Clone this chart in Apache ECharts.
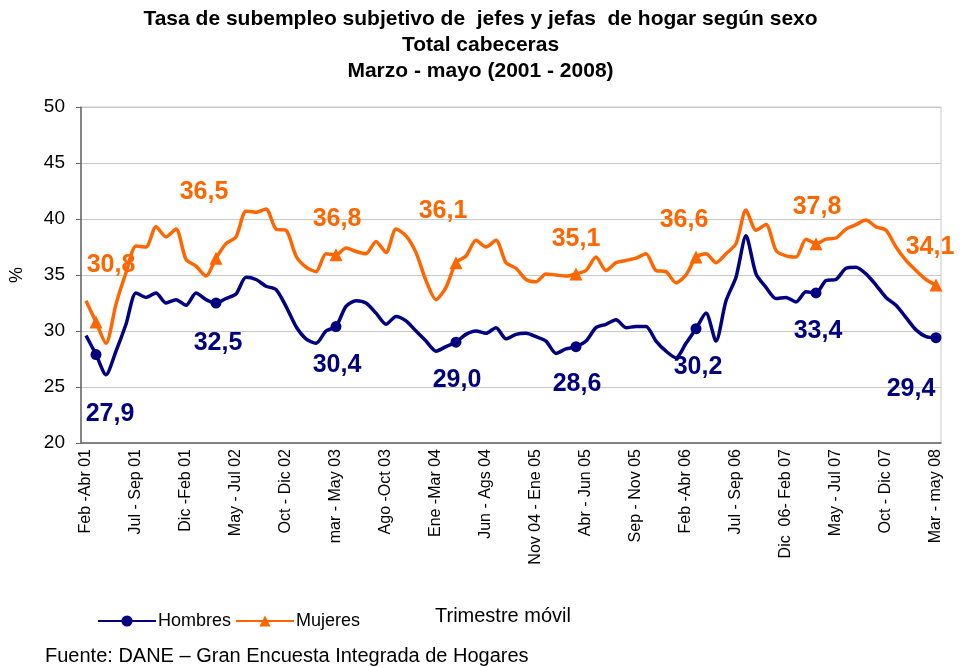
<!DOCTYPE html>
<html>
<head>
<meta charset="utf-8">
<script src="https://cdn.jsdelivr.net/npm/echarts@6/dist/echarts.min.js"></script>
<style>
  html, body { margin: 0; padding: 0; background: #fff; }
  #main { width: 961px; height: 667px; }
</style>
</head>
<body>
<div id="main"></div>
<script>
// etiquetas visibles del eje x (cada 5 trimestres moviles)
var tickLabels = ['Feb -Abr 01', 'Jul - Sep 01', 'Dic -Feb 01', 'May - Jul 02', 'Oct - Dic 02',
  'mar - May 03', 'Ago -Oct 03', 'Ene -Mar 04', 'Jun - Ags 04', 'Nov 04 - Ene 05',
  'Abr - Jun 05', 'Sep - Nov 05', 'Feb -Abr 06', 'Jul - Sep 06', 'Dic  06- Feb 07',
  'May - Jul 07', 'Oct - Dic 07', 'Mar - may 08'];
var months = ['Ene', 'Feb', 'Mar', 'Abr', 'May', 'Jun', 'Jul', 'Ago', 'Sep', 'Oct', 'Nov', 'Dic'];

var hombres = [29.6, 27.9, 26.1, 28.2, 30.6, 33.4, 33.0, 33.4, 32.5, 32.8,
  32.3, 33.4, 32.8, 32.5, 32.9, 33.3, 34.8, 34.6, 34.0, 33.7,
  32.2, 30.4, 29.3, 28.9, 30.0, 30.4, 32.2, 32.7, 32.5, 31.6,
  30.6, 31.3, 30.9, 30.0, 29.1, 28.2, 28.6, 29.0, 29.7, 30.0,
  29.8, 30.3, 29.3, 29.7, 29.8, 29.5, 29.1, 28.0, 28.4, 28.6,
  29.1, 30.3, 30.6, 31.0, 30.3, 30.4, 30.4, 29.1, 28.2, 27.6,
  28.9, 30.2, 31.6, 29.1, 32.7, 34.8, 38.5, 35.1, 33.9, 32.9,
  33.0, 32.6, 33.5, 33.4, 34.5, 34.6, 35.6, 35.7, 35.1, 34.1,
  33.0, 32.3, 31.2, 30.1, 29.5, 29.4];
var mujeres = [32.7, 30.8, 28.9, 32.4, 35.2, 37.6, 37.5, 39.3, 38.4, 39.1,
  36.4, 35.8, 34.9, 36.5, 37.8, 38.4, 40.7, 40.6, 40.9, 39.1,
  39.0, 36.7, 35.7, 35.3, 36.9, 36.8, 37.4, 37.1, 36.9, 38.0,
  37.0, 39.1, 38.5, 37.0, 34.5, 32.8, 33.9, 36.1, 36.7, 38.1,
  37.5, 38.1, 36.1, 35.6, 34.6, 34.4, 35.1, 35.0, 34.9, 35.1,
  35.4, 36.6, 35.4, 36.1, 36.3, 36.5, 36.9, 35.4, 35.3, 34.3,
  35.0, 36.6, 36.9, 36.1, 36.9, 37.8, 40.8, 39.0, 39.5, 37.2,
  36.7, 36.6, 38.2, 37.8, 38.2, 38.3, 39.1, 39.5, 39.9, 39.3,
  39.0, 37.5, 36.3, 35.4, 34.6, 34.1];

// trimestres marzo - mayo de cada anio (puntos con marcador y etiqueta)
var marcados = [1, 13, 25, 37, 49, 61, 73, 85];

// desplazamiento de las etiquetas respecto al marcador
var offHombres = [[14, 60], [2, 40], [1, 39], [1, 38], [1, 37], [2, 38], [2, 38], [-25, 51]];
var offMujeres = [[15, -57], [-12, -66], [1, -36], [-13, -52], [0, -35], [-12, -37], [1, -37], [-6, -38]];

var titulos = ['Tasa de subempleo subjetivo de  jefes y jefas  de hogar según sexo', 'Total cabeceras', 'Marzo - mayo (2001 - 2008)'];

var categorias = hombres.map(function (v, i) {
  if (i % 5 === 0) return tickLabels[i / 5];
  var m = 1 + i;
  var y = 1 + Math.floor((m + 2) / 12);
  return months[m % 12] + ' - ' + months[(m + 2) % 12] + ' ' + (y < 10 ? '0' + y : y);
});

var FONT = 'Liberation Sans, Arial, sans-serif';
var fmt = function (p) { return p.value.toFixed(1).replace('.', ','); };

function serie(name, vals, color, sym, size, offs) {
  return {
    name: name,
    type: 'line',
    smooth: 0.25,
    symbol: sym,
    symbolSize: size,
    showAllSymbol: true,
    lineStyle: { color: color, width: 3.5 },
    itemStyle: { color: color },
    data: vals.map(function (v, i) {
      var k = marcados.indexOf(i);
      if (k < 0) return { value: v, symbol: 'none' };
      return {
        value: v,
        label: {
          show: true, position: 'inside', offset: offs[k], formatter: fmt,
          color: color, fontSize: 25, fontWeight: 'bold', fontFamily: FONT
        }
      };
    })
  };
}

var chart = echarts.init(document.getElementById('main'));
chart.setOption({
  animation: false,
  textStyle: { fontFamily: FONT },
  title: titulos.map(function (t, i) {
    return {
      text: t, left: 'center', top: 4 + i * 26,
      textStyle: { fontSize: 21, fontWeight: 'bold', color: '#000' }
    };
  }),
  legend: {
    left: 92,
    top: 607,
    itemWidth: 58,
    itemHeight: 14,
    itemGap: 4,
    textStyle: { fontSize: 18, color: '#000', padding: [0, 0, 0, -3] },
    data: ['Hombres', 'Mujeres']
  },
  graphic: [
    { type: 'text', left: 435, top: 606, style: { text: 'Trimestre móvil', fontSize: 20, fill: '#000', fontFamily: FONT } },
    { type: 'text', left: 45, top: 646, style: { text: 'Fuente: DANE – Gran Encuesta Integrada de Hogares', fontSize: 20, fill: '#000', fontFamily: FONT } }
  ],
  grid: {
    left: 81, right: 20, top: 107, bottom: 224,
    outerBoundsMode: 'none', containLabel: false,
    show: true, borderColor: '#c8c8c8', borderWidth: 1
  },
  xAxis: {
    type: 'category',
    data: categorias,
    boundaryGap: true,
    axisLine: { lineStyle: { color: '#666', width: 1.5 } },
    axisTick: { interval: 0, length: 5, lineStyle: { color: '#666' } },
    axisLabel: {
      interval: 4, rotate: 90, fontSize: 16, color: '#000', margin: 6,
      formatter: function (v, i) { return tickLabels[i / 5]; }
    },
    splitLine: { show: false }
  },
  yAxis: {
    type: 'value',
    min: 20,
    max: 50,
    interval: 5,
    name: '%',
    nameLocation: 'middle',
    nameRotate: 90,
    nameGap: 55,
    nameTextStyle: { fontSize: 18, color: '#000' },
    axisLine: { show: true, lineStyle: { color: '#666', width: 1.5 } },
    axisTick: { show: true, length: 5, lineStyle: { color: '#666' } },
    axisLabel: { fontSize: 19, color: '#000', margin: 16 },
    splitLine: { lineStyle: { color: '#c8c8c8', width: 1 } }
  },
  series: [
    serie('Hombres', hombres, '#000080', 'circle', 11, offHombres),
    serie('Mujeres', mujeres, '#FF6600', 'triangle', 13, offMujeres)
  ]
});
</script>
</body>
</html>
